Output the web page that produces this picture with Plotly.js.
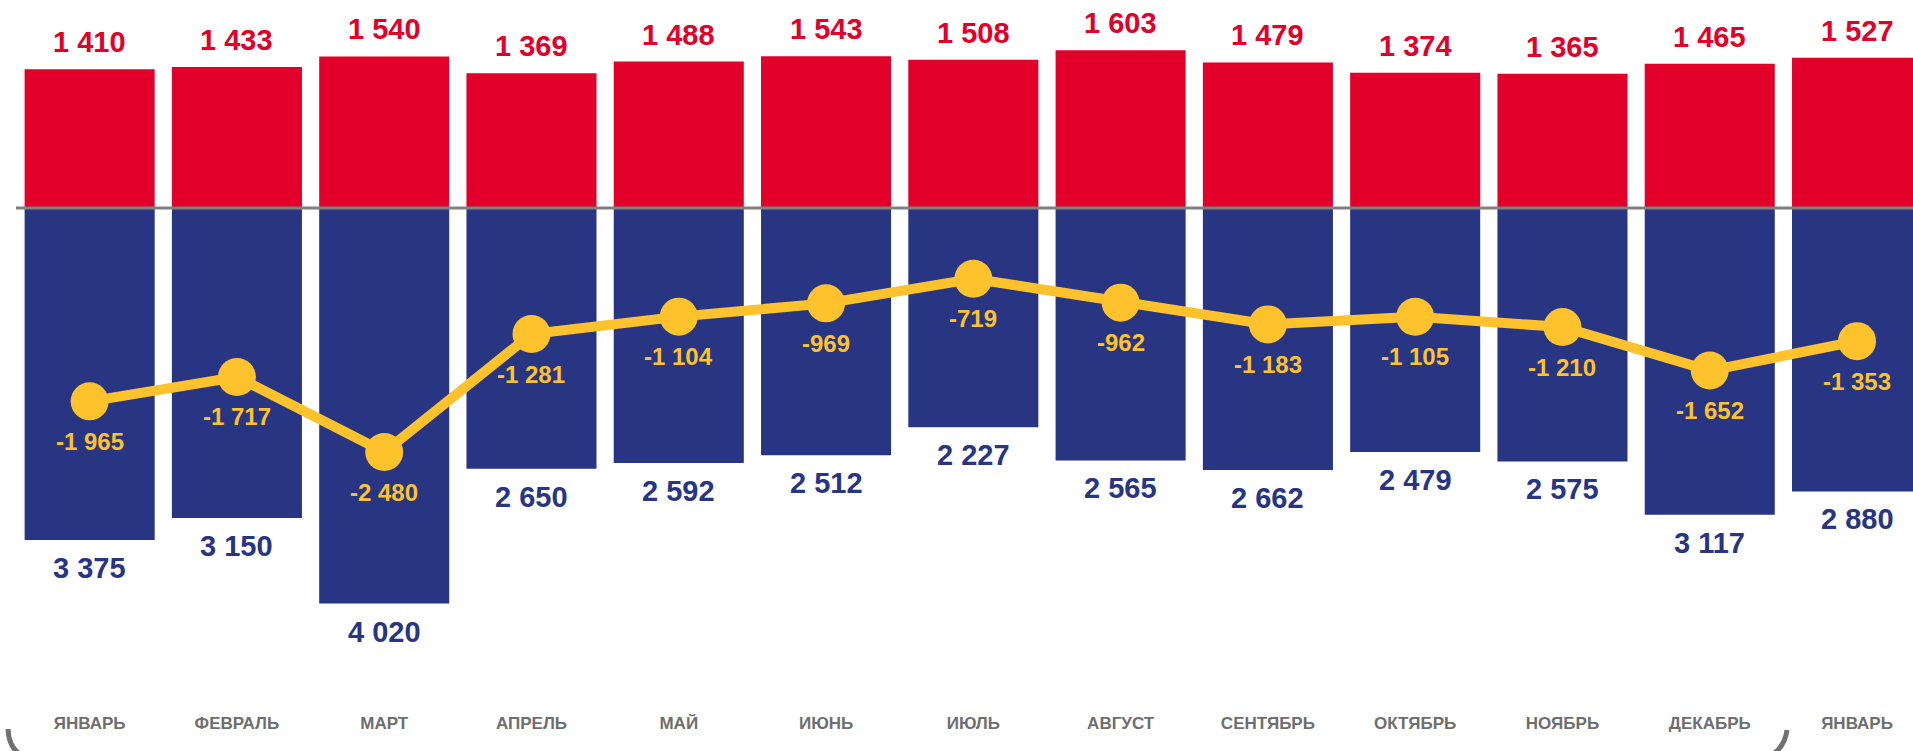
<!DOCTYPE html>
<html>
<head>
<meta charset="utf-8">
<script src="https://cdn.plot.ly/plotly-3.0.1.min.js"></script>
<style>
  html, body { margin: 0; padding: 0; background: #ffffff; }
  #chart { width: 1913px; height: 751px; }
</style>
</head>
<body>
<div id="chart"></div>
<script>
// ---- data ----
const months = ["ЯНВАРЬ", "ФЕВРАЛЬ", "МАРТ", "АПРЕЛЬ", "МАЙ", "ИЮНЬ", "ИЮЛЬ", "АВГУСТ", "СЕНТЯБРЬ", "ОКТЯБРЬ", "НОЯБРЬ", "ДЕКАБРЬ", "ЯНВАРЬ"];
const exportsVals = [1410, 1433, 1540, 1369, 1488, 1543, 1508, 1603, 1479, 1374, 1365, 1465, 1527];
const importsVals = [3375, 3150, 4020, 2650, 2592, 2512, 2227, 2565, 2662, 2479, 2575, 3117, 2880];
const balanceVals = [-1965, -1717, -2480, -1281, -1104, -969, -719, -962, -1183, -1105, -1210, -1652, -1353];

// ---- styles ----
const RED = '#E2002A';
const NAVY = '#283583';
const YELLOW = '#FDC22C';
const GRAY = '#6e6e6e';
const FONT = 'Liberation Sans, Arial, sans-serif';

const idx = months.map((_, i) => i);
const fmt = v => {
  const s = Math.abs(v).toString().replace(/\B(?=(\d{3})+(?!\d))/g, ' ');
  return (v < 0 ? '-' : '') + s;
};

const traces = [
  {
    type: 'bar', x: idx, y: exportsVals,
    marker: { color: RED, line: { width: 0 } },
    hoverinfo: 'skip'
  },
  {
    type: 'bar', x: idx, y: importsVals.map(v => -v),
    marker: { color: NAVY, line: { width: 0 } },
    hoverinfo: 'skip'
  },
  {
    type: 'scatter', mode: 'lines+markers', x: idx, y: balanceVals,
    line: { color: YELLOW, width: 10 },
    marker: { color: YELLOW, size: 38 },
    hoverinfo: 'skip', cliponaxis: false
  }
];

const annotations = [];
idx.forEach(i => {
  annotations.push({
    x: i, y: exportsVals[i], xref: 'x', yref: 'y', text: fmt(exportsVals[i]),
    showarrow: false, xanchor: 'center', yanchor: 'middle', yshift: 27,
    font: { family: FONT, size: 29, color: RED, weight: 'bold' }
  });
  annotations.push({
    x: i, y: -importsVals[i], xref: 'x', yref: 'y', text: fmt(importsVals[i]),
    showarrow: false, xanchor: 'center', yanchor: 'middle', yshift: -28,
    font: { family: FONT, size: 29, color: NAVY, weight: 'bold' }
  });
  annotations.push({
    x: i, y: balanceVals[i], xref: 'x', yref: 'y', text: fmt(balanceVals[i]),
    showarrow: false, xanchor: 'center', yanchor: 'middle', yshift: -40,
    font: { family: FONT, size: 24, color: YELLOW, weight: 'bold' }
  });
});

// pixel -> paper helpers for the decorative bracket
const ML = 16, PW = 1913 - 16, PB = 700, PH = 700;
const px = x => ((x - ML) / PW).toFixed(5);
const py = y => ((PB - y) / PH).toFixed(5);
const bracketPath =
  `M ${px(8)},${py(729)} Q ${px(9)},${py(760)} ${px(45)},${py(762)} ` +
  `L ${px(1745)},${py(762)} Q ${px(1783)},${py(760)} ${px(1787)},${py(730)}`;

const layout = {
  width: 1913, height: 751,
  margin: { l: ML, r: 0, t: 0, b: 51, pad: 0 },
  paper_bgcolor: '#ffffff', plot_bgcolor: '#ffffff',
  showlegend: false,
  barmode: 'relative',
  bargap: 0.117,
  xaxis: {
    range: [-0.5, 12.38], tickmode: 'array', tickvals: idx, ticktext: months,
    showgrid: false, zeroline: false, showline: false, ticks: '',
    tickfont: { family: FONT, size: 17, color: GRAY, weight: 'bold' },
    ticklabelstandoff: 11,
    fixedrange: true
  },
  yaxis: {
    range: [-5000, 2114], showgrid: false, zeroline: false, showline: false,
    showticklabels: false, ticks: '', fixedrange: true
  },
  shapes: [
    {
      type: 'line', xref: 'paper', yref: 'y', x0: 0, x1: 1, y0: 0, y1: 0,
      line: { color: '#808080', width: 3 }, layer: 'above'
    },
    {
      type: 'path', xref: 'paper', yref: 'paper', path: bracketPath,
      line: { color: '#707070', width: 5 }, layer: 'above'
    }
  ],
  annotations: annotations,
  font: { family: FONT }
};

Plotly.newPlot('chart', traces, layout, { displayModeBar: false, staticPlot: true });
</script>
</body>
</html>
